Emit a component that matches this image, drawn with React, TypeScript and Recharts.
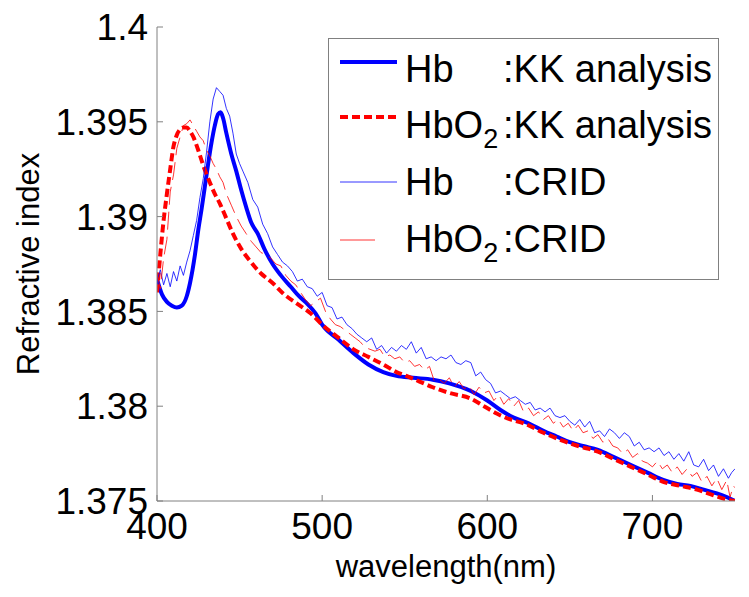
import { Label, Line, LineChart, XAxis, YAxis } from "recharts";

// [wavelength (nm), refractive index]
const hbKK: [number, number][] = [
  [400, 1.3867], [403, 1.3859], [406, 1.3855], [409, 1.3853], [412, 1.3852], [415, 1.3853],
  [418, 1.3858], [420, 1.3865], [423, 1.388], [425, 1.3893], [427, 1.3904], [429, 1.3916],
  [431, 1.3928], [433, 1.3939], [435, 1.3948], [437, 1.3954], [438.5, 1.3955], [440, 1.3952],
  [442, 1.3944], [445, 1.3933], [448, 1.3924], [451, 1.3914], [454, 1.3905], [457, 1.3897],
  [461, 1.3891], [465, 1.3883], [470, 1.3875], [475, 1.3869], [481, 1.3863], [486, 1.3858],
  [491, 1.3854], [496, 1.3849], [500, 1.3843], [510, 1.3835], [519, 1.3828], [528, 1.3822],
  [537, 1.3818], [545, 1.3816], [555, 1.3815], [567, 1.3814], [577, 1.3812], [590, 1.3808],
  [600, 1.3803], [608, 1.3798], [616, 1.3794], [625, 1.3791], [634, 1.3787], [642, 1.3784],
  [650, 1.3781], [658, 1.3779], [667, 1.3777], [677, 1.3773], [687, 1.3769], [697, 1.3765],
  [707, 1.3761], [715, 1.3759], [723, 1.3758], [731, 1.3756], [739, 1.3754], [745, 1.3752],
  [750, 1.375],
];

const hbo2KK: [number, number][] = [
  [400, 1.386], [402, 1.388], [404, 1.3898], [406, 1.3912], [408, 1.3925], [410, 1.3937],
  [412, 1.3943], [414, 1.3946], [416, 1.3947], [418, 1.3947], [420, 1.3945], [422, 1.3942],
  [425, 1.3935], [428, 1.3927], [432, 1.3918], [435, 1.3912], [438, 1.3907], [442, 1.3899],
  [446, 1.3891], [451, 1.3883], [456, 1.3877], [463, 1.387], [470, 1.3865], [477, 1.3859],
  [485, 1.3854], [493, 1.3849], [500, 1.3843], [510, 1.3836], [519, 1.383], [528, 1.3826],
  [537, 1.3822], [545, 1.3818], [551, 1.3816], [559, 1.3813], [567, 1.381], [577, 1.3807],
  [590, 1.3804], [598, 1.38], [606, 1.3796], [614, 1.3793], [622, 1.3791], [634, 1.3786],
  [645, 1.3782], [655, 1.3779], [667, 1.3776], [677, 1.3772], [687, 1.3768], [697, 1.3764],
  [707, 1.376], [717, 1.3758], [727, 1.3756], [737, 1.3753], [744, 1.3751], [750, 1.375],
];

const hbCRID: [number, number][] = [
  [400, 1.3866], [402, 1.3872], [404, 1.3864], [406, 1.387], [408, 1.3863], [410, 1.3871],
  [412, 1.3866], [414, 1.3874], [416, 1.3869], [418, 1.3876], [420, 1.3882], [422, 1.389],
  [424, 1.3898], [426, 1.391], [428, 1.392], [430, 1.3934], [432, 1.395], [434, 1.3962],
  [436, 1.3968], [438, 1.3966], [440, 1.3964], [442, 1.3957], [444, 1.3953], [446, 1.3944],
  [448, 1.3933], [450, 1.3928], [452, 1.3924], [455, 1.3918], [458, 1.3909], [461, 1.3905],
  [464, 1.3896], [467, 1.3891], [470, 1.3884], [473, 1.388], [476, 1.3876], [479, 1.3874],
  [482, 1.3871], [485, 1.3866], [488, 1.3867], [491, 1.3863], [494, 1.3862], [497, 1.3858],
  [500, 1.386], [503, 1.3853], [506, 1.3852], [509, 1.3846], [512, 1.3847], [515, 1.3843],
  [518, 1.3841], [521, 1.3838], [524, 1.3836], [527, 1.3834], [530, 1.3836], [533, 1.383],
  [536, 1.3832], [539, 1.3828], [542, 1.3831], [545, 1.3829], [548, 1.3832], [551, 1.383],
  [554, 1.3834], [557, 1.3828], [560, 1.3831], [563, 1.3825], [566, 1.3826], [569, 1.3824],
  [572, 1.3826], [575, 1.3825], [578, 1.3827], [581, 1.3823], [584, 1.3822], [587, 1.3824],
  [590, 1.3823], [593, 1.3816], [596, 1.3818], [599, 1.3814], [602, 1.3812], [605, 1.3807],
  [608, 1.3808], [611, 1.3806], [614, 1.3804], [617, 1.3805], [620, 1.3803], [623, 1.3801],
  [626, 1.3802], [629, 1.3798], [632, 1.3799], [635, 1.3797], [638, 1.3799], [641, 1.3795],
  [644, 1.3794], [647, 1.3795], [650, 1.3792], [653, 1.379], [656, 1.3793], [659, 1.3789],
  [662, 1.3792], [665, 1.3786], [668, 1.3787], [671, 1.3784], [674, 1.3788], [677, 1.3786],
  [680, 1.3783], [683, 1.3786], [686, 1.3784], [689, 1.3779], [692, 1.3781], [695, 1.3777],
  [698, 1.3778], [701, 1.3776], [704, 1.3778], [707, 1.3774], [710, 1.3776], [713, 1.3772],
  [716, 1.3775], [719, 1.3771], [722, 1.3776], [725, 1.3769], [728, 1.3768], [731, 1.3772],
  [734, 1.3766], [737, 1.3769], [740, 1.3763], [743, 1.3767], [746, 1.3762], [748, 1.3765],
  [750, 1.3767],
];

const hbo2CRID: [number, number][] = [
  [400, 1.387], [402, 1.3862], [404, 1.3878], [406, 1.3888], [408, 1.3913], [410, 1.3922],
  [412, 1.3936], [414, 1.3942], [416, 1.3948], [418, 1.3949], [420, 1.3951], [422, 1.3948],
  [424, 1.3945], [426, 1.3942], [428, 1.394], [430, 1.3935], [432, 1.3932], [434, 1.3928],
  [436, 1.3925], [438, 1.3921], [440, 1.3918], [442, 1.3912], [445, 1.3906], [448, 1.39],
  [451, 1.3895], [454, 1.3891], [457, 1.3887], [460, 1.3884], [463, 1.3881], [466, 1.388],
  [469, 1.3878], [472, 1.3875], [475, 1.3874], [478, 1.3869], [481, 1.3866], [484, 1.3864],
  [487, 1.386], [490, 1.3856], [493, 1.3853], [496, 1.3855], [499, 1.3857], [502, 1.385],
  [505, 1.3846], [508, 1.3843], [511, 1.3842], [514, 1.384], [517, 1.3838], [520, 1.3836],
  [523, 1.3834], [526, 1.3831], [529, 1.383], [532, 1.3829], [535, 1.383], [538, 1.3826],
  [541, 1.3827], [544, 1.3825], [547, 1.3826], [550, 1.3823], [553, 1.3824], [556, 1.3821],
  [559, 1.3822], [562, 1.3819], [565, 1.3821], [568, 1.3813], [571, 1.3814], [574, 1.3812],
  [577, 1.3815], [580, 1.381], [583, 1.3813], [586, 1.3809], [589, 1.3811], [592, 1.3806],
  [595, 1.381], [598, 1.3807], [601, 1.3808], [604, 1.3803], [607, 1.3806], [610, 1.3801],
  [613, 1.3804], [616, 1.38], [619, 1.3803], [622, 1.3797], [625, 1.3799], [628, 1.3795],
  [631, 1.3797], [634, 1.3793], [637, 1.3795], [640, 1.3791], [643, 1.3793], [646, 1.3789],
  [649, 1.3791], [652, 1.3787], [655, 1.379], [658, 1.3786], [661, 1.3787], [664, 1.3783],
  [667, 1.3785], [670, 1.3781], [673, 1.3783], [676, 1.3779], [679, 1.3778], [682, 1.3775],
  [685, 1.3777], [688, 1.3773], [691, 1.3775], [694, 1.3771], [697, 1.377], [700, 1.3768],
  [703, 1.3771], [706, 1.3767], [709, 1.3769], [712, 1.3765], [715, 1.3768], [718, 1.3764],
  [721, 1.3767], [724, 1.3763], [727, 1.3765], [730, 1.376], [733, 1.3763], [736, 1.3758],
  [739, 1.3762], [742, 1.3756], [745, 1.3761], [747, 1.3752], [749, 1.3758], [750, 1.3757],
];

const xTicks = [400, 500, 600, 700];
const yTicks = [1.375, 1.38, 1.385, 1.39, 1.395, 1.4];

const toRows = (pts: [number, number][]) => pts.map(([w, n]) => ({ w, n }));

const FONT = "'Liberation Sans', Arial, Helvetica, sans-serif";
const AXIS_GREY = "#808080";
const tickStyle = { fontSize: 37, fill: "#000", fontFamily: FONT };

const ChartLegend = () => (
  <svg
    width={749}
    height={597}
    style={{ position: "absolute", left: 0, top: 0, pointerEvents: "none", fontFamily: FONT }}
  >
    <rect x={328.5} y={38.5} width={390} height={241} fill="#fff" stroke={AXIS_GREY} />
    <line x1={340} x2={397} y1={62} y2={62} stroke="#0000ff" strokeWidth={4} />
    <line x1={340} x2={397} y1={117} y2={117} stroke="#ff0000" strokeWidth={4} strokeDasharray="8 4" />
    <line x1={340} x2={397} y1={182} y2={182} stroke="#0000ff" strokeWidth={0.8} />
    <line x1={340} x2={375} y1={240} y2={240} stroke="#ff0000" strokeWidth={0.8} />
    <g fontSize={38} fill="#000">
      <text x={405} y={82}>Hb</text>
      <text x={503} y={82}>:KK analysis</text>
      <text x={405} y={138}>
        HbO<tspan fontSize={27} dy={10}>2</tspan>
      </text>
      <text x={503} y={138}>:KK analysis</text>
      <text x={405} y={195}>Hb</text>
      <text x={503} y={195}>:CRID</text>
      <text x={405} y={252}>
        HbO<tspan fontSize={27} dy={10}>2</tspan>
      </text>
      <text x={503} y={252}>:CRID</text>
    </g>
  </svg>
);

export default function App() {
  return (
    <div
      style={{
        position: "absolute",
        left: 0,
        top: 0,
        width: 749,
        height: 597,
        background: "#fff",
        fontFamily: FONT,
      }}
    >
      <LineChart width={749} height={597} margin={{ top: 27, right: 14, bottom: 0, left: 0 }}>
        <XAxis
          dataKey="w"
          type="number"
          domain={[400, 750]}
          ticks={xTicks}
          interval={0}
          height={96}
          stroke={AXIS_GREY}
          tickSize={-6}
          tickMargin={18}
          tick={tickStyle}
          allowDataOverflow
        >
          <Label
            value="wavelength(nm)"
            position="insideBottom"
            offset={20}
            style={{ fontSize: 31, fill: "#000", fontFamily: FONT }}
          />
        </XAxis>
        <XAxis
          xAxisId="top"
          orientation="top"
          type="number"
          domain={[400, 750]}
          ticks={xTicks}
          height={0}
          stroke={AXIS_GREY}
          tickSize={-6}
          tickFormatter={() => ""}
        />
        <YAxis
          type="number"
          domain={[1.375, 1.4]}
          ticks={yTicks}
          interval={0}
          width={157}
          stroke={AXIS_GREY}
          tickSize={-6}
          tickMargin={15}
          tick={tickStyle}
          allowDataOverflow
        >
          <Label
            value="Refractive index"
            angle={-90}
            position="insideLeft"
            offset={28}
            style={{ fontSize: 31, fill: "#000", fontFamily: FONT, textAnchor: "middle" }}
          />
        </YAxis>
        <YAxis
          yAxisId="right"
          orientation="right"
          type="number"
          domain={[1.375, 1.4]}
          ticks={yTicks}
          width={0}
          stroke={AXIS_GREY}
          tickSize={-6}
          tickFormatter={() => ""}
        />
        <Line
          data={toRows(hbKK)}
          dataKey="n"
          type="monotone"
          stroke="#0000ff"
          strokeWidth={4}
          dot={false}
          activeDot={false}
          isAnimationActive={false}
        />
        <Line
          data={toRows(hbo2KK)}
          dataKey="n"
          type="monotone"
          stroke="#ff0000"
          strokeWidth={4}
          strokeDasharray="8 4"
          dot={false}
          activeDot={false}
          isAnimationActive={false}
        />
        <Line
          data={toRows(hbCRID)}
          dataKey="n"
          type="linear"
          stroke="#0000ff"
          strokeWidth={0.8}
          dot={false}
          activeDot={false}
          isAnimationActive={false}
        />
        <Line
          data={toRows(hbo2CRID)}
          dataKey="n"
          type="linear"
          stroke="#ff0000"
          strokeWidth={0.8}
          strokeDasharray="18 7"
          dot={false}
          activeDot={false}
          isAnimationActive={false}
        />
      </LineChart>
      <ChartLegend />
    </div>
  );
}
